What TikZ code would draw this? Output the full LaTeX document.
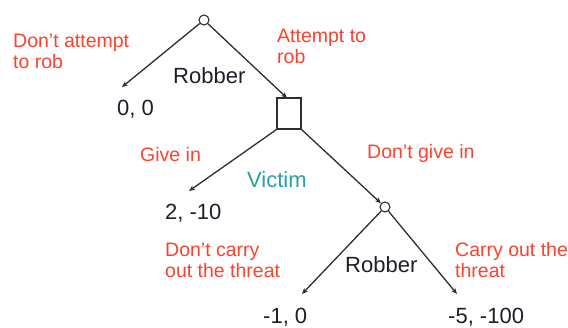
\documentclass[tikz,border=0pt]{standalone}
\usepackage{fontspec}
\setmainfont{Liberation Sans}
\usetikzlibrary{arrows.meta}
\definecolor{actred}{RGB}{250,66,46}
\definecolor{teal2}{RGB}{40,158,168}
\definecolor{ink}{RGB}{30,30,42}
\definecolor{edge}{RGB}{45,45,45}
\tikzset{
  dec/.style={circle,draw=edge,line width=1.1pt,minimum size=10pt,inner sep=0pt,fill=white},
  chance/.style={rectangle,draw=edge,line width=1.1pt,minimum width=24pt,minimum height=31pt,inner sep=0pt},
  branch/.style={draw=edge,line width=1.3pt,-{Stealth[length=6pt,width=5pt]}},
  act/.style={text=actred,font=\fontsize{19.5}{20.5}\selectfont,align=left,anchor=base west,inner sep=0pt},
  player/.style={text=ink,font=\fontsize{22}{24}\selectfont,anchor=base west,inner sep=0pt},
  pay/.style={text=ink,font=\fontsize{22}{24}\selectfont,anchor=base west,inner sep=0pt},
}
\begin{document}
\begin{tikzpicture}[x=1pt,y=-1pt]
\useasboundingbox (0,0) rectangle (568,327);
% decision nodes
\node[dec] (root) at (204,20) {};
\node[chance] (box) at (289,113.5) {};
\node[dec] (r2) at (385,207) {};
% arrow tips
\coordinate (t00) at (122,87);
\coordinate (tbox) at (287,98);
\coordinate (t210) at (189,191);
\coordinate (t10) at (302,294);
\coordinate (t5100) at (457,294);
% connectors
\draw[branch] (root) -- (t00);
\draw[branch] (root) -- (tbox);
\draw[branch] (box.south west) -- (t210);
\draw[branch] (box.south east) -- (r2);
\draw[branch] (r2) -- (t10);
\draw[branch] (r2) -- (t5100);
% action labels (anchored at the baseline of their last line)
\node[act] (a1) at (13,68) {Don't attempt\\to rob};
\node[act] (a2) at (277,63) {Attempt to\\rob};
\node[act] (a3) at (140,161) {Give in};
\node[act] (a4) at (367,158) {Don't give in};
\node[act] (a5) at (165,277) {Don't carry\\out the threat};
\node[act] (a6) at (455,277) {Carry out the\\threat};
% players
\node[player] (p1) at (173,83) {Robber};
\node[player,text=teal2] (p2) at (247,187) {Victim};
\node[player] (p3) at (345,272) {Robber};
% payoffs
\node[pay] (u1) at (117,115) {0, 0};
\node[pay] (u2) at (165,219) {2, -10};
\node[pay] (u3) at (263,323) {-1, 0};
\node[pay] (u4) at (448,323) {-5, -100};
\end{tikzpicture}
\end{document}
